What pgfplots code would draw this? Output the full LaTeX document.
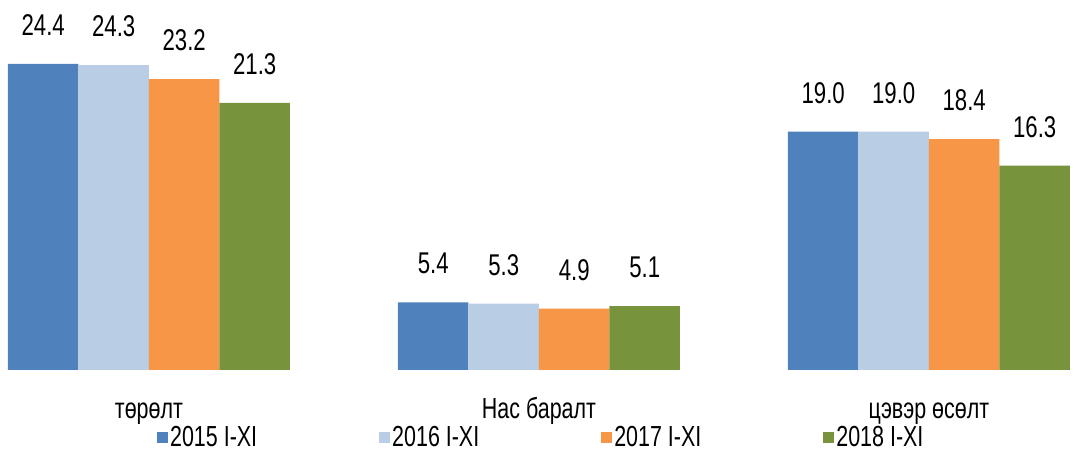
\documentclass[border=0pt]{standalone}
\usepackage{fontspec}
\setmainfont{Liberation Sans}[FakeStretch=0.74]
\usepackage{pgfplots}
\pgfplotsset{compat=1.18}
\definecolor{c15}{HTML}{4F81BD}
\definecolor{c16}{HTML}{B9CDE5}
\definecolor{c17}{HTML}{F79646}
\definecolor{c18}{HTML}{77933C}
\begin{document}
\fontsize{30}{36}\selectfont
\begin{tikzpicture}
\begin{axis}[
  scale only axis, width=1074pt, height=370pt,
  xmin=-0.382, xmax=2.372, ymin=0, ymax=29.5,
  ybar=0pt, bar width=70.5pt,
  axis y line=none, axis x line*=bottom,
  x axis line style={draw=none},
  major tick length=0pt,
  xtick={0,1,2},
  xticklabels={төрөлт, Нас баралт, цэвэр өсөлт},
  xticklabel style={anchor=base, yshift=-49pt, font=\fontsize{29}{34}\selectfont},
  nodes near coords,
  nodes near coords style={font=\fontsize{30}{36}\selectfont, yshift=18pt, /pgf/number format/.cd, fixed, fixed zerofill, precision=1, assume math mode=true},
  every axis plot/.append style={draw=none},
  legend columns=4,
  legend style={at={(0.504,-0.147)}, anchor=north, draw=none, inner sep=0pt, font=\fontsize{29}{34}\selectfont,
    /tikz/every even column/.append style={column sep=120pt}},
  legend image code/.code={\fill[#1] (0pt,-4pt) rectangle (11pt,7pt);},
  clip=false,
]
\addplot[fill=c15] coordinates {(0,24.4) (1,5.4) (2,19.0)};
\addplot[fill=c16] coordinates {(0,24.3) (1,5.3) (2,19.0)};
\addplot[fill=c17] coordinates {(0,23.2) (1,4.9) (2,18.4)};
\addplot[fill=c18] coordinates {(0,21.3) (1,5.1) (2,16.3)};
\legend{2015 I-XI, 2016 I-XI, 2017 I-XI, 2018 I-XI}
\coordinate (bl) at (rel axis cs:0,0);
\coordinate (tr) at (rel axis cs:1,1);
\end{axis}
\pgfresetboundingbox
\path ([yshift=-82pt]bl) rectangle (tr);
\end{tikzpicture}
\end{document}
